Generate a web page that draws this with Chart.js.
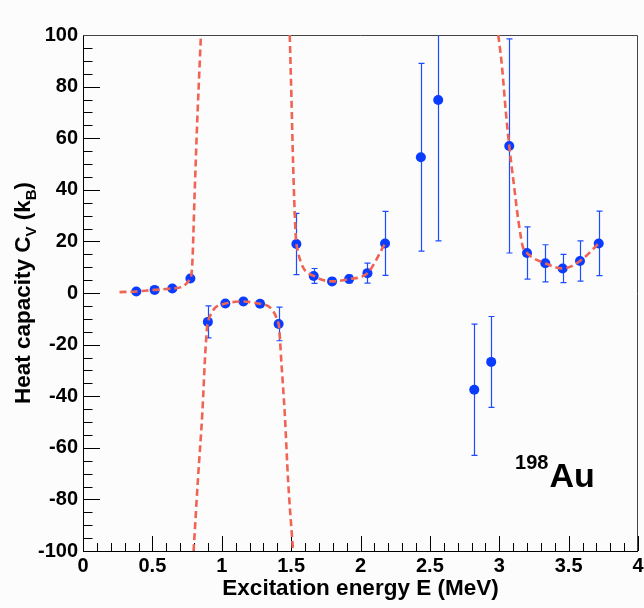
<!DOCTYPE html>
<html>
<head>
<meta charset="utf-8">
<script src="https://cdn.jsdelivr.net/npm/chart.js@4.4.1/dist/chart.umd.min.js"></script>
<style>
  html, body { margin: 0; padding: 0; background: #fcfcfc; }
  #wrap { width: 644px; height: 608px; }
</style>
</head>
<body>
<div id="wrap"><canvas id="cv" width="644" height="608"></canvas></div>
<script>
// Measured heat capacity of 198Au versus excitation energy
const energy = [0.384, 0.516, 0.644, 0.774, 0.900, 1.026, 1.156, 1.276, 1.410,
                1.538, 1.663, 1.795, 1.918, 2.050, 2.177, 2.435, 2.560,
                2.820, 2.942, 3.072, 3.200, 3.332, 3.457, 3.582, 3.717];
const heatCapacity = [0.6, 1.2, 1.75, 5.6, -11.2, -4.1, -3.3, -4.2, -12.0,
                      19.0, 6.6, 4.5, 5.4, 7.7, 19.2, 52.6, 74.8,
                      -37.5, -26.7, 57.0, 15.5, 11.5, 9.5, 12.4, 19.2];
const heatCapacityErr = [0.8, 0.8, 0.8, 1.0, 6.2, 1.2, 1.2, 1.2, 6.5,
                         11.9, 2.9, 1.2, 1.5, 3.9, 12.4, 36.4, 54.6,
                         25.4, 17.6, 41.5, 10.1, 7.2, 5.5, 7.8, 12.5];

// Fitted curve, one branch per region between the poles
const fitE1 = [0.263, 0.384, 0.516, 0.644, 0.774, 0.788, 0.804, 0.821, 0.836, 0.850];
const fitC1 = [0.35, 0.6, 1.2, 1.75, 5.6, 11.6, 37.5, 63.4, 82.8, 100];
const fitE2 = [0.797, 0.828, 0.860, 0.884, 0.900, 1.026, 1.156, 1.276, 1.410, 1.430, 1.454, 1.478, 1.514];
const fitC2 = [-100, -72.5, -46.6, -20.8, -11.2, -4.1, -3.3, -4.2, -12.0, -27.2, -46.6, -72.5, -100];
const fitE3 = [1.490, 1.502, 1.514, 1.526, 1.538, 1.663, 1.795, 1.918, 2.050, 2.177];
const fitC3 = [100, 76.3, 50.4, 31.0, 19.0, 6.6, 4.5, 5.4, 7.7, 19.2];
const fitE4 = [2.993, 3.017, 3.048, 3.072, 3.101, 3.137, 3.169, 3.200, 3.332, 3.457, 3.582, 3.717];
const fitC4 = [100, 89.3, 69.9, 57.0, 44.0, 28.4, 18.1, 15.5, 11.5, 9.5, 12.4, 19.2];

// Axis ticks
const xTicks = [0, 0.5, 1, 1.5, 2, 2.5, 3, 3.5, 4];
const yTicks = [-100, -80, -60, -40, -20, 0, 20, 40, 60, 80, 100];
const xMinorStep = 0.1;
const yMinorStep = 5;

const FONT = "'Liberation Sans', Arial, Helvetica, sans-serif";
const MARKER = '#0a3cff';
const ERRBAR = '#1c4cff';
const FIT = 'rgb(240,100,84)';

const toXY = (xs, ys) => xs.map((x, i) => ({ x: x, y: ys[i] }));

function fitDataset(xs, ys) {
  return {
    type: 'line',
    data: toXY(xs, ys),
    borderColor: FIT,
    borderWidth: 2.6,
    borderDash: [7, 4],
    pointRadius: 0,
    fill: false,
    cubicInterpolationMode: 'monotone',
    order: 0
  };
}

const bgPlugin = {
  id: 'bg',
  beforeDraw(chart) {
    const ctx = chart.ctx;
    ctx.save();
    ctx.fillStyle = '#fcfcfc';
    ctx.fillRect(0, 0, chart.width, chart.height);
    ctx.restore();
  }
};

// Frame and inward-pointing tick marks
const framePlugin = {
  id: 'frame',
  beforeDatasetsDraw(chart) {
    const { ctx, chartArea: a, scales } = chart;
    const xs = scales.x, ys = scales.y;
    ctx.save();
    ctx.lineWidth = 1;
    ctx.strokeStyle = '#000';
    ctx.beginPath();
    const nx = Math.round((xs.max - xs.min) / xMinorStep);
    for (let i = 0; i <= nx; i++) {
      const v = xs.min + i * xMinorStep;
      const major = xTicks.some(t => Math.abs(t - v) < 1e-6);
      const px = Math.round(xs.getPixelForValue(v)) + 0.5;
      ctx.moveTo(px, a.bottom);
      ctx.lineTo(px, a.bottom - (major ? 15 : 8));
    }
    const ny = Math.round((ys.max - ys.min) / yMinorStep);
    for (let i = 0; i <= ny; i++) {
      const v = ys.min + i * yMinorStep;
      const major = yTicks.some(t => Math.abs(t - v) < 1e-6);
      const py = Math.round(ys.getPixelForValue(v)) + 0.5;
      ctx.moveTo(a.left, py);
      ctx.lineTo(a.left + (major ? 17 : 9.5), py);
    }
    ctx.stroke();
    // axis lines
    ctx.beginPath();
    ctx.moveTo(a.left + 0.5, a.top);
    ctx.lineTo(a.left + 0.5, a.bottom + 0.5);
    ctx.lineTo(a.right, a.bottom + 0.5);
    ctx.stroke();
    // upper and right frame
    ctx.strokeStyle = '#444';
    ctx.beginPath();
    ctx.moveTo(a.left, a.top + 0.5);
    ctx.lineTo(a.right - 0.5, a.top + 0.5);
    ctx.lineTo(a.right - 0.5, a.bottom);
    ctx.stroke();
    ctx.restore();
  }
};

// Vertical error bars with small caps
const errorBarPlugin = {
  id: 'errorBars',
  beforeDatasetsDraw(chart) {
    const { ctx, chartArea: a, scales } = chart;
    const xs = scales.x, ys = scales.y;
    ctx.save();
    ctx.beginPath();
    ctx.rect(a.left, a.top, a.right - a.left, a.bottom - a.top);
    ctx.clip();
    ctx.strokeStyle = ERRBAR;
    ctx.lineWidth = 1.2;
    ctx.beginPath();
    energy.forEach((e, i) => {
      const px = Math.round(xs.getPixelForValue(e)) + 0.5;
      const yHi = ys.getPixelForValue(heatCapacity[i] + heatCapacityErr[i]);
      const yLo = ys.getPixelForValue(heatCapacity[i] - heatCapacityErr[i]);
      ctx.moveTo(px, yHi);
      ctx.lineTo(px, yLo);
      ctx.moveTo(px - 3, yHi);
      ctx.lineTo(px + 3, yHi);
      ctx.moveTo(px - 3, yLo);
      ctx.lineTo(px + 3, yLo);
    });
    ctx.stroke();
    ctx.restore();
  }
};

function drawRich(ctx, parts, startX, baseY) {
  let x = startX;
  parts.forEach(p => {
    ctx.font = 'bold ' + p.size + 'px ' + FONT;
    ctx.fillText(p.text, x, baseY + (p.dy || 0));
    x += ctx.measureText(p.text).width;
  });
}
function richWidth(ctx, parts) {
  let w = 0;
  parts.forEach(p => {
    ctx.font = 'bold ' + p.size + 'px ' + FONT;
    w += ctx.measureText(p.text).width;
  });
  return w;
}

// Axis titles and the nucleus label
const textPlugin = {
  id: 'texts',
  afterDraw(chart) {
    const { ctx, chartArea: a, scales } = chart;
    ctx.save();
    ctx.fillStyle = '#000';
    ctx.textBaseline = 'alphabetic';
    ctx.textAlign = 'left';

    // x title
    const xParts = [{ text: 'Excitation energy E (MeV)', size: 22.5 }];
    const xw = richWidth(ctx, xParts);
    drawRich(ctx, xParts, (a.left + a.right) / 2 - xw / 2, 595);

    // y title with subscripts
    const yParts = [
      { text: 'Heat capacity C', size: 22.5 },
      { text: 'V', size: 15, dy: 6 },
      { text: ' (k', size: 22.5 },
      { text: 'B', size: 15, dy: 6 },
      { text: ')', size: 22.5 }
    ];
    const yw = richWidth(ctx, yParts);
    ctx.save();
    ctx.translate(30, (a.top + a.bottom) / 2);
    ctx.rotate(-Math.PI / 2);
    drawRich(ctx, yParts, -yw / 2, 0);
    ctx.restore();

    // isotope label anchored in data coordinates
    const lx = scales.x.getPixelForValue(3.114);
    const ly = scales.y.getPixelForValue(-75.1);
    ctx.font = 'bold 20px ' + FONT;
    ctx.fillText('198', lx, ly - 17.5);
    const sw = ctx.measureText('198').width;
    ctx.font = 'bold 34px ' + FONT;
    ctx.fillText('Au', lx + sw + 1, ly);
    ctx.restore();
  }
};

const tickFont = { family: FONT, size: 20, weight: 'bold' };

new Chart(document.getElementById('cv'), {
  type: 'scatter',
  data: {
    datasets: [
      fitDataset(fitE1, fitC1),
      fitDataset(fitE2, fitC2),
      fitDataset(fitE3, fitC3),
      fitDataset(fitE4, fitC4),
      {
        type: 'scatter',
        data: toXY(energy, heatCapacity),
        pointRadius: 5,
        pointHoverRadius: 5,
        pointStyle: 'circle',
        backgroundColor: MARKER,
        borderColor: MARKER,
        borderWidth: 0,
        order: 1
      }
    ]
  },
  options: {
    responsive: false,
    animation: false,
    devicePixelRatio: 1,
    layout: { padding: { left: 0, top: 35, right: 6, bottom: 0 } },
    plugins: { legend: { display: false }, tooltip: { enabled: false } },
    scales: {
      x: {
        type: 'linear',
        min: 0, max: 4,
        afterBuildTicks: s => { s.ticks = xTicks.map(v => ({ value: v })); },
        afterFit: s => { s.height = 57; s.paddingLeft = 0; s.paddingRight = 0; },
        grid: { display: false, drawTicks: false },
        border: { display: false },
        ticks: {
          font: tickFont, color: '#000', padding: 3,
          maxRotation: 0, autoSkip: false,
          callback: v => String(v)
        }
      },
      y: {
        type: 'linear',
        min: -100, max: 100,
        afterBuildTicks: s => { s.ticks = yTicks.map(v => ({ value: v })); },
        afterFit: s => { s.width = 83; s.paddingTop = 0; s.paddingBottom = 0; },
        grid: { display: false, drawTicks: false },
        border: { display: false },
        ticks: {
          font: tickFont, color: '#000', padding: 5,
          autoSkip: false,
          callback: v => String(v)
        }
      }
    }
  },
  plugins: [bgPlugin, framePlugin, errorBarPlugin, textPlugin]
});
</script>
</body>
</html>
